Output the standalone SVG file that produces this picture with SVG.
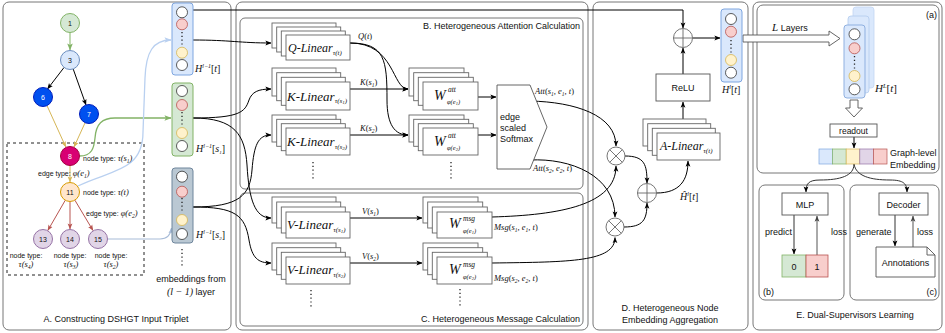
<svg xmlns="http://www.w3.org/2000/svg" width="945" height="333" viewBox="0 0 945 333">
<defs>
<style>
.pan{fill:none;stroke:#777;stroke-width:1}
.t{font-family:"Liberation Sans",Arial,sans-serif;fill:#111}
.m{font-family:"Liberation Serif","Times New Roman",serif;font-style:italic;fill:#111}
.stk{fill:#fff;stroke:#666;stroke-width:0.9}
.ln{fill:none;stroke:#000;stroke-width:1}
.op{fill:#fff;stroke:#666;stroke-width:0.9}
.dot{fill:none;stroke:#222;stroke-width:1.3;stroke-dasharray:1.2 2.6}
.cw{fill:#fff;stroke:#333;stroke-width:0.8}
.cp{fill:#f8cecc;stroke:#b85450;stroke-width:0.8}
.cy{fill:#fff2cc;stroke:#d6b656;stroke-width:0.8}
.bx{fill:#fff;stroke:#555;stroke-width:0.9}
</style>
<marker id="a" viewBox="0 0 8 8" refX="7.5" refY="4" markerWidth="6" markerHeight="6" markerUnits="userSpaceOnUse" orient="auto"><path d="M0,0.8 L8,4 L0,7.2 L1.8,4 z" fill="#000"/></marker>
<marker id="ag" viewBox="0 0 8 8" refX="7.5" refY="4" markerWidth="7" markerHeight="7" markerUnits="userSpaceOnUse" orient="auto"><path d="M0,0.8 L8,4 L0,7.2 L1.8,4 z" fill="#82b366"/></marker>
<marker id="ay" viewBox="0 0 8 8" refX="7.5" refY="4" markerWidth="6" markerHeight="6" markerUnits="userSpaceOnUse" orient="auto"><path d="M0,0.8 L8,4 L0,7.2 L1.8,4 z" fill="#d6b656"/></marker>
<marker id="ar" viewBox="0 0 8 8" refX="7.5" refY="4" markerWidth="6" markerHeight="6" markerUnits="userSpaceOnUse" orient="auto"><path d="M0,0.8 L8,4 L0,7.2 L1.8,4 z" fill="#b85450"/></marker>
<marker id="ab" viewBox="0 0 8 8" refX="7.5" refY="4" markerWidth="7" markerHeight="7" markerUnits="userSpaceOnUse" orient="auto"><path d="M0,0.8 L8,4 L0,7.2 L1.8,4 z" fill="#b9d0f0"/></marker>
<marker id="as" viewBox="0 0 8 8" refX="7.5" refY="4" markerWidth="6" markerHeight="6" markerUnits="userSpaceOnUse" orient="auto"><path d="M0,0.8 L8,4 L0,7.2 L1.8,4 z" fill="#a8bcd8"/></marker>
<marker id="ag2" viewBox="0 0 8 8" refX="7.5" refY="4" markerWidth="6" markerHeight="6" markerUnits="userSpaceOnUse" orient="auto"><path d="M0,0.8 L8,4 L0,7.2 L1.8,4 z" fill="#444"/></marker>
</defs>
<rect width="945" height="333" fill="#fff"/>

<!-- panels -->
<g id="panels">
<rect class="pan" x="3" y="2" width="228" height="328" rx="6"/>
<rect class="pan" x="236" y="2" width="352" height="328" rx="6"/>
<rect class="pan" x="240" y="18" width="343" height="171" rx="5"/>
<rect class="pan" x="240" y="193" width="343" height="133" rx="5"/>
<rect class="pan" x="593" y="2" width="155" height="328" rx="6"/>
<rect class="pan" x="753" y="2" width="189" height="328" rx="6"/>
<rect class="pan" x="757" y="5" width="182" height="168" rx="6"/>
<rect class="pan" x="759" y="185" width="85" height="115" rx="6"/>
<rect class="pan" x="850" y="185" width="89" height="115" rx="6"/>
<rect x="7" y="143" width="137" height="132" fill="none" stroke="#222" stroke-width="1" stroke-dasharray="3 3"/>
</g>

<!-- titles -->
<g id="titles" class="t" font-size="9">
<text x="116" y="322" text-anchor="middle">A. Constructing DSHGT Input Triplet</text>
<text x="580" y="29" text-anchor="end">B. Heterogeneous Attention Calculation</text>
<text x="580" y="322" text-anchor="end">C. Heterogeneous Message Calculation</text>
<text x="670" y="311" text-anchor="middle">D. Heterogeneous Node</text>
<text x="670" y="323" text-anchor="middle">Embedding Aggregation</text>
<text x="855" y="318" text-anchor="middle">E. Dual-Supervisors Learning</text>
<text x="937" y="18" text-anchor="end">(a)</text>
<text x="763" y="295">(b)</text>
<text x="937" y="295" text-anchor="end">(c)</text>
</g>

<!-- connectors -->
<g id="connectors">
<line x1="70" y1="32.5" x2="70" y2="50" stroke="#82b366" marker-end="url(#ag)"/>
<line x1="64" y1="67.5" x2="47.5" y2="89" class="ln" marker-end="url(#a)"/>
<line x1="73.2" y1="69" x2="86" y2="105" class="ln" marker-end="url(#a)"/>
<line x1="47" y1="105.6" x2="65.8" y2="147" stroke="#d6b656" marker-end="url(#ay)"/>
<line x1="85.1" y1="122.7" x2="74" y2="147" stroke="#d6b656" marker-end="url(#ay)"/>
<line x1="70" y1="165.5" x2="70" y2="182" stroke="#d6b656" marker-end="url(#ay)"/>
<line x1="65.3" y1="200.2" x2="47.8" y2="230.5" stroke="#b85450" marker-end="url(#ar)"/>
<line x1="70" y1="201.5" x2="70" y2="229" stroke="#b85450" marker-end="url(#ar)"/>
<line x1="74.9" y1="200.2" x2="93" y2="230.5" stroke="#b85450" marker-end="url(#ar)"/>
<path d="M79.5,156 C92,156 94,148 95,138 C96,124 102,118 115,118 L171,118" fill="none" stroke="#82b366" stroke-width="1.3" marker-end="url(#ag)"/>
<path d="M78,186 C110,170 143,172 143,132 L145,78 C146,52 153,40 171,40" fill="none" stroke="#b9d0f0" stroke-width="1.3" marker-end="url(#ab)"/>
<path d="M107.5,239 L160,239 Q170,239 171.5,228" fill="none" stroke="#a8bcd8" stroke-width="1.2" marker-end="url(#as)"/>

<path d="M193,10 L683,10 L683,28" class="ln" stroke-width="1.3" marker-end="url(#a)"/>
<path d="M193,40 C230,40 240,43 271,43" class="ln" marker-end="url(#a)"/>
<path d="M193,118 C240,118 245,112 249,100 C252,92 258,89 271,89" class="ln" marker-end="url(#a)"/>
<path d="M193,118 C235,118 245,135 247,165 C249,200 255,218 271,218" class="ln" marker-end="url(#a)"/>
<path d="M193,207 C240,207 250,195 252,170 C254,145 258,135 271,135" class="ln" marker-end="url(#a)"/>
<path d="M193,207 C235,207 245,215 249,240 C252,258 258,263 271,263" class="ln" marker-end="url(#a)"/>

<path d="M350,43 C395,43 392,89 408,89" class="ln" marker-end="url(#a)"/>
<path d="M350,43 C385,43 387,60 387,100 C387,125 395,135 408,135" class="ln" marker-end="url(#a)"/>
<line x1="350" y1="89" x2="408" y2="89" class="ln" marker-end="url(#a)"/>
<line x1="350" y1="135" x2="408" y2="135" class="ln" marker-end="url(#a)"/>
<line x1="478" y1="97" x2="496" y2="97" class="ln" marker-end="url(#a)"/>
<line x1="478" y1="135" x2="496" y2="135" class="ln" marker-end="url(#a)"/>
<line x1="350" y1="218" x2="422" y2="218" class="ln" marker-end="url(#a)"/>
<line x1="350" y1="263" x2="422" y2="263" class="ln" marker-end="url(#a)"/>

<path d="M530,101 C575,102 616,115 616,146" class="ln" marker-end="url(#a)"/>
<path d="M530,160 C570,158 615,175 615,217" class="ln" marker-end="url(#a)"/>
<path d="M492,217 C560,215 616,205 616,166" class="ln" marker-end="url(#a)"/>
<path d="M492,263 C570,262 615,262 615,237.5" class="ln" marker-end="url(#a)"/>
<path d="M625,156 C645,156 647,165 647,183" class="ln" marker-end="url(#a)"/>
<path d="M624,227 C643,227 647,220 647,203" class="ln" marker-end="url(#a)"/>
<path d="M656.5,193 C680,193 688,180 688,161" class="ln" marker-end="url(#a)"/>
<line x1="683" y1="119" x2="683" y2="102" class="ln" marker-end="url(#a)"/>
<line x1="683" y1="74" x2="683" y2="48" class="ln" marker-end="url(#a)"/>
<line x1="692.5" y1="38" x2="720" y2="38" class="ln" marker-end="url(#a)"/>

<polygon points="743,35 829,35 829,31 840,38.5 829,46 829,42 743,42" fill="#fff" stroke="#555" stroke-width="0.9"/>
<polygon points="850,100 858,100 858,108 862.5,108 854,117 845.5,108 850,108" fill="#fff" stroke="#555" stroke-width="0.9"/>
<line x1="854" y1="137" x2="854" y2="148" class="ln" stroke="#333" marker-end="url(#a)"/>
<path d="M854,164 C854,176 840,180 820,180 C808,180 806,184 806,192" fill="none" stroke="#333" marker-end="url(#a)"/>
<path d="M854,164 C856,176 870,180 890,180 C904,180 907,184 907,192" fill="none" stroke="#333" marker-end="url(#a)"/>
<line x1="794" y1="215" x2="794" y2="254" stroke="#333" marker-end="url(#a)"/>
<line x1="817" y1="255" x2="817" y2="216" stroke="#555" marker-end="url(#ag2)"/>
<line x1="895" y1="215" x2="895" y2="246" stroke="#333" marker-end="url(#a)"/>
<line x1="913" y1="247" x2="913" y2="216" stroke="#555" marker-end="url(#ag2)"/>
</g>

<!-- graph nodes -->
<g class="t" font-size="7" text-anchor="middle">
<g id="n1"><circle cx="70" cy="23" r="9.5" fill="#d5e8d4" stroke="#82b366"/><text x="70" y="25.5">1</text></g>
<g id="n3"><circle cx="70" cy="60" r="9.5" fill="#dae8fc" stroke="#6c8ebf"/><text x="70" y="62.5">3</text></g>
<g id="n6"><circle cx="43" cy="97" r="9.5" fill="#0050ef" stroke="#001dbc"/><text x="43" y="99.5" fill="#fff">6</text></g>
<g id="n7"><circle cx="89" cy="114" r="9.5" fill="#0050ef" stroke="#001dbc"/><text x="89" y="116.5" fill="#fff">7</text></g>
<g id="n8"><circle cx="70" cy="156" r="9.5" fill="#d80073" stroke="#a50040"/><text x="70" y="158.5" fill="#fff">8</text></g>
<g id="n11"><circle cx="70" cy="192" r="9.5" fill="#ffe6cc" stroke="#d79b00"/><text x="70" y="194.5">11</text></g>
<g id="n13"><circle cx="43" cy="239" r="9.5" fill="#e1d5e7" stroke="#9673a6"/><text x="43" y="241.5">13</text></g>
<g id="n14"><circle cx="70" cy="239" r="9.5" fill="#e1d5e7" stroke="#9673a6"/><text x="70" y="241.5">14</text></g>
<g id="n15"><circle cx="98" cy="239" r="9.5" fill="#e1d5e7" stroke="#9673a6"/><text x="98" y="241.5">15</text></g>
</g>

<g id="graph-labels" class="t" font-size="7">
<text x="83" y="161">node type: <tspan class="m" font-size="8.5">τ(s<tspan font-size="5.5" dy="1.5">1</tspan><tspan dy="-1.5">)</tspan></tspan></text>
<text x="38" y="176">edge type: <tspan class="m" font-size="8.5">φ(e<tspan font-size="5.5" dy="1.5">1</tspan><tspan dy="-1.5">)</tspan></tspan></text>
<text x="83" y="195">node type: <tspan class="m" font-size="8.5">τ(t)</tspan></text>
<text x="86" y="216">edge type: <tspan class="m" font-size="8.5">φ(e<tspan font-size="5.5" dy="1.5">2</tspan><tspan dy="-1.5">)</tspan></tspan></text>
<text x="26" y="257.5" text-anchor="middle">node type:</text>
<text x="70" y="257.5" text-anchor="middle">node type:</text>
<text x="111" y="257.5" text-anchor="middle">node type:</text>
<text class="m" x="26" y="267" font-size="8.5" text-anchor="middle">τ(s<tspan font-size="5.5" dy="1.5">4</tspan><tspan dy="-1.5">)</tspan></text>
<text class="m" x="71" y="267" font-size="8.5" text-anchor="middle">τ(s<tspan font-size="5.5" dy="1.5">3</tspan><tspan dy="-1.5">)</tspan></text>
<text class="m" x="111" y="267" font-size="8.5" text-anchor="middle">τ(s<tspan font-size="5.5" dy="1.5">2</tspan><tspan dy="-1.5">)</tspan></text>
</g>

<!-- embeddings l-1 -->
<g id="Ht">
<rect x="172" y="3" width="21" height="72" rx="3" fill="#dae8fc" stroke="#7ea6e0"/>
<circle class="cw" cx="182" cy="12.3" r="5.5"/><circle class="cp" cx="182" cy="24.3" r="5.5"/>
<line class="dot" x1="182" y1="32" x2="182" y2="45"/>
<circle class="cy" cx="182" cy="52.7" r="5.5"/><circle class="cw" cx="182" cy="65" r="5.5"/>
<text class="m" x="195" y="72" font-size="10">H<tspan font-size="6" dy="-4">l−1</tspan><tspan dy="4" font-style="normal">[</tspan>t<tspan font-style="normal">]</tspan></text>
</g>
<g id="Hs1">
<rect x="172" y="83" width="21" height="73" rx="3" fill="#d5e8d4" stroke="#82b366"/>
<circle class="cw" cx="182" cy="91" r="5.5"/><circle class="cp" cx="182" cy="105" r="5.5"/>
<line class="dot" x1="182" y1="112" x2="182" y2="126"/>
<circle class="cy" cx="182" cy="133" r="5.5"/><circle class="cw" cx="182" cy="146" r="5.5"/>
<text class="m" x="196" y="152" font-size="10">H<tspan font-size="6" dy="-4">l−1</tspan><tspan dy="4" font-style="normal">[</tspan>s<tspan font-size="5" dy="1.5">1</tspan><tspan dy="-1.5" font-style="normal">]</tspan></text>
</g>
<g id="Hs2">
<rect x="172" y="168" width="21" height="75" rx="3" fill="#bac8d3" stroke="#6f869c"/>
<circle class="cw" cx="182" cy="176.7" r="5.5"/><circle class="cp" cx="182" cy="191.7" r="5.5"/>
<line class="dot" x1="182" y1="198" x2="182" y2="213"/>
<circle class="cy" cx="182" cy="220" r="5.5"/><circle class="cw" cx="182" cy="234" r="5.5"/>
<text class="m" x="196" y="238" font-size="10">H<tspan font-size="6" dy="-4">l−1</tspan><tspan dy="4" font-style="normal">[</tspan>s<tspan font-size="5" dy="1.5">2</tspan><tspan dy="-1.5" font-style="normal">]</tspan></text>
</g>
<g id="Hmore">
<line class="dot" x1="182" y1="249" x2="182" y2="268"/>
<text class="t" x="191" y="282" font-size="9" text-anchor="middle">embeddings from</text>
<text class="t" x="191" y="295" font-size="9" text-anchor="middle"><tspan class="m" font-size="10" font-style="normal">(</tspan><tspan class="m" font-size="10">l</tspan><tspan class="m" font-size="10" font-style="normal"> − 1)</tspan> layer</text>
</g>

<!-- Q/K/V linear stacks -->
<g id="Qlin">
<rect class="stk" x="272" y="23" width="64" height="25"/><rect class="stk" x="276.7" y="27" width="64" height="25"/><rect class="stk" x="281.3" y="31" width="64" height="25"/><rect class="stk" x="286" y="35" width="64" height="25"/>
<text class="m" x="288" y="52" font-size="12">Q-Linear<tspan font-size="7" dy="2.5">τ(t)</tspan></text>
</g>
<g id="Ks1">
<rect class="stk" x="272" y="68" width="64" height="28"/><rect class="stk" x="276.7" y="72.7" width="64" height="28"/><rect class="stk" x="281.3" y="77.3" width="64" height="28"/><rect class="stk" x="286" y="82" width="64" height="28"/>
<text class="m" x="287" y="100.5" font-size="13">K-Linear<tspan font-size="7" dy="2.5">τ(s</tspan><tspan font-size="5" dy="1">1</tspan><tspan font-size="7" dy="-1">)</tspan></text>
</g>
<g id="Ks2">
<rect class="stk" x="272" y="115" width="64" height="27"/><rect class="stk" x="276.7" y="119.3" width="64" height="27"/><rect class="stk" x="281.3" y="123.7" width="64" height="27"/><rect class="stk" x="286" y="128" width="64" height="27"/>
<text class="m" x="287" y="146" font-size="13">K-Linear<tspan font-size="7" dy="2.5">τ(s</tspan><tspan font-size="5" dy="1">2</tspan><tspan font-size="7" dy="-1">)</tspan></text>
</g>
<g id="Vs1">
<rect class="stk" x="272" y="197" width="64" height="26"/><rect class="stk" x="276.7" y="202" width="64" height="26"/><rect class="stk" x="281.3" y="207" width="64" height="26"/><rect class="stk" x="286" y="212" width="64" height="26"/>
<text class="m" x="287" y="229" font-size="13">V-Linear<tspan font-size="7" dy="2.5">τ(s</tspan><tspan font-size="5" dy="1">1</tspan><tspan font-size="7" dy="-1">)</tspan></text>
</g>
<g id="Vs2">
<rect class="stk" x="272" y="243" width="64" height="27"/><rect class="stk" x="276.7" y="247.7" width="64" height="27"/><rect class="stk" x="281.3" y="252.3" width="64" height="27"/><rect class="stk" x="286" y="257" width="64" height="27"/>
<text class="m" x="287" y="274" font-size="13">V-Linear<tspan font-size="7" dy="2.5">τ(s</tspan><tspan font-size="5" dy="1">2</tspan><tspan font-size="7" dy="-1">)</tspan></text>
</g>

<!-- W stacks -->
<g id="Watt1">
<rect class="stk" x="409" y="68" width="55" height="28"/><rect class="stk" x="413.7" y="72.7" width="55" height="28"/><rect class="stk" x="418.3" y="77.3" width="55" height="28"/><rect class="stk" x="423" y="82" width="55" height="28"/>
<text class="m" x="434" y="100" font-size="14">W</text>
<text class="m" x="448" y="92" font-size="7.5">att</text>
<text class="m" x="447" y="104" font-size="6.5">φ(e<tspan font-size="4.5" dy="1">1</tspan><tspan dy="-1">)</tspan></text>
</g>
<g id="Watt2">
<rect class="stk" x="409" y="115" width="55" height="27"/><rect class="stk" x="413.7" y="119.3" width="55" height="27"/><rect class="stk" x="418.3" y="123.7" width="55" height="27"/><rect class="stk" x="423" y="128" width="55" height="27"/>
<text class="m" x="434" y="146" font-size="14">W</text>
<text class="m" x="448" y="138" font-size="7.5">att</text>
<text class="m" x="447" y="150" font-size="6.5">φ(e<tspan font-size="4.5" dy="1">2</tspan><tspan dy="-1">)</tspan></text>
</g>
<g id="Wmsg1">
<rect class="stk" x="423" y="197" width="55" height="26"/><rect class="stk" x="427.7" y="202" width="55" height="26"/><rect class="stk" x="432.3" y="207" width="55" height="26"/><rect class="stk" x="437" y="212" width="55" height="26"/>
<text class="m" x="449" y="228" font-size="14">W</text>
<text class="m" x="463" y="221" font-size="7.5">msg</text>
<text class="m" x="463" y="232.5" font-size="6.5">φ(e<tspan font-size="4.5" dy="1">1</tspan><tspan dy="-1">)</tspan></text>
</g>
<g id="Wmsg2">
<rect class="stk" x="423" y="243" width="55" height="27"/><rect class="stk" x="427.7" y="247.7" width="55" height="27"/><rect class="stk" x="432.3" y="252.3" width="55" height="27"/><rect class="stk" x="437" y="257" width="55" height="27"/>
<text class="m" x="449" y="274" font-size="14">W</text>
<text class="m" x="463" y="267" font-size="7.5">msg</text>
<text class="m" x="463" y="278.5" font-size="6.5">φ(e<tspan font-size="4.5" dy="1">2</tspan><tspan dy="-1">)</tspan></text>
</g>
<g id="vdots">
<line class="dot" x1="313" y1="162" x2="313" y2="180"/>
<line class="dot" x1="451" y1="162" x2="451" y2="180"/>
<line class="dot" x1="311" y1="290" x2="311" y2="307"/>
<line class="dot" x1="460" y1="289" x2="460" y2="307"/>
</g>

<!-- softmax -->
<g id="softmax">
<polygon points="497,85 530,85 547,127 530,169 497,169" fill="#fff" stroke="#555" stroke-width="0.9"/>
<text class="t" x="500" y="120" font-size="9">edge</text>
<text class="t" x="500" y="131" font-size="9">scaled</text>
<text class="t" x="500" y="141.5" font-size="9">Softmax</text>
</g>

<!-- edge labels -->
<g id="edge-labels" class="m" font-size="8.5">
<text x="358" y="39">Q<tspan font-style="normal">(</tspan>t<tspan font-style="normal">)</tspan></text>
<text x="360" y="85">K<tspan font-style="normal">(</tspan>s<tspan font-size="5.5" dy="1.5">1</tspan><tspan dy="-1.5" font-style="normal">)</tspan></text>
<text x="360" y="131">K<tspan font-style="normal">(</tspan>s<tspan font-size="5.5" dy="1.5">2</tspan><tspan dy="-1.5" font-style="normal">)</tspan></text>
<text x="362" y="214">V<tspan font-style="normal">(</tspan>s<tspan font-size="5.5" dy="1.5">1</tspan><tspan dy="-1.5" font-style="normal">)</tspan></text>
<text x="362" y="259">V<tspan font-style="normal">(</tspan>s<tspan font-size="5.5" dy="1.5">2</tspan><tspan dy="-1.5" font-style="normal">)</tspan></text>
<text x="535" y="94">Att<tspan font-style="normal">(</tspan>s<tspan font-size="5.5" dy="1.5">1</tspan><tspan dy="-1.5">, e</tspan><tspan font-size="5.5" dy="1.5">1</tspan><tspan dy="-1.5">, t</tspan><tspan font-style="normal">)</tspan></text>
<text x="533" y="171">Att<tspan font-style="normal">(</tspan>s<tspan font-size="5.5" dy="1.5">2</tspan><tspan dy="-1.5">, e</tspan><tspan font-size="5.5" dy="1.5">2</tspan><tspan dy="-1.5">, t</tspan><tspan font-style="normal">)</tspan></text>
<text x="494" y="230">Msg<tspan font-style="normal">(</tspan>s<tspan font-size="5.5" dy="1.5">1</tspan><tspan dy="-1.5">, e</tspan><tspan font-size="5.5" dy="1.5">1</tspan><tspan dy="-1.5">, t</tspan><tspan font-style="normal">)</tspan></text>
<text x="494" y="281">Msg<tspan font-style="normal">(</tspan>s<tspan font-size="5.5" dy="1.5">2</tspan><tspan dy="-1.5">, e</tspan><tspan font-size="5.5" dy="1.5">2</tspan><tspan dy="-1.5">, t</tspan><tspan font-style="normal">)</tspan></text>
<text x="680" y="200" font-size="10">Ĥ<tspan font-size="6" dy="-4">l</tspan><tspan dy="4" font-style="normal">[</tspan>t<tspan font-style="normal">]</tspan></text>
</g>

<!-- aggregation -->
<g id="mul1"><circle class="op" cx="616" cy="156" r="9"/><path d="M609.6,149.6 L622.4,162.4 M622.4,149.6 L609.6,162.4" stroke="#666" stroke-width="0.9"/></g>
<g id="mul2"><circle class="op" cx="615" cy="227" r="9"/><path d="M608.6,220.6 L621.4,233.4 M621.4,220.6 L608.6,233.4" stroke="#666" stroke-width="0.9"/></g>
<g id="add2"><circle class="op" cx="647" cy="193" r="9.5"/><path d="M637.5,193 H656.5 M647,183.5 V202.5" stroke="#666" stroke-width="0.9"/></g>
<g id="add1"><circle class="op" cx="683" cy="38" r="9.5"/><path d="M673.5,38 H692.5 M683,28.5 V47.5" stroke="#666" stroke-width="0.9"/></g>
<g id="Alin">
<rect class="stk" x="643" y="119" width="63" height="27"/><rect class="stk" x="647.7" y="123.7" width="63" height="27"/><rect class="stk" x="652.3" y="128.3" width="63" height="27"/><rect class="stk" x="657" y="133" width="63" height="27"/>
<text class="m" x="660" y="150" font-size="12">A-Linear<tspan font-size="7" dy="2.5">τ(t)</tspan></text>
</g>
<g id="relu"><rect class="bx" x="656" y="74" width="54" height="27"/><text class="t" x="683" y="90.5" font-size="9" text-anchor="middle">ReLU</text></g>
<g id="Hl">
<rect x="721" y="9" width="21" height="73" rx="3" fill="#dae8fc" stroke="#7ea6e0"/>
<circle class="cw" cx="731" cy="19" r="5.5"/><circle class="cp" cx="731" cy="31.7" r="5.5"/>
<line class="dot" x1="731" y1="40" x2="731" y2="54"/>
<circle class="cy" cx="731" cy="60" r="5.5"/><circle class="cw" cx="731" cy="72.7" r="5.5"/>
<text class="m" x="722" y="93" font-size="10">H<tspan font-size="6" dy="-4">l</tspan><tspan dy="4" font-style="normal">[</tspan>t<tspan font-style="normal">]</tspan></text>
</g>

<!-- E -->
<g id="layers">
<text x="772" y="31" class="t" font-size="9"><tspan class="m" font-size="11">L</tspan>  Layers</text>
</g>
<g id="HL">
<rect x="853" y="7" width="21" height="81" rx="3" fill="#dae8fc" stroke="#c3d6f2" stroke-width="0.8"/>
<rect x="848" y="16" width="21" height="77" rx="3" fill="#dae8fc" stroke="#b3cbee" stroke-width="0.8"/>
<rect x="844" y="25" width="21" height="73" rx="3" fill="#dae8fc" stroke="#8fb0e0"/>
<circle class="cw" cx="854.5" cy="34.3" r="5.5"/><circle class="cp" cx="854.5" cy="48.3" r="5.5"/>
<line class="dot" x1="854.5" y1="56" x2="854.5" y2="69"/>
<circle class="cy" cx="854.5" cy="76" r="5.5"/><circle class="cw" cx="854.5" cy="89.3" r="5.5"/>
<text class="m" x="875" y="92" font-size="11">H<tspan font-size="6.5" dy="-4.5">L</tspan><tspan dy="4.5" font-style="normal">[</tspan>t<tspan font-style="normal">]</tspan></text>
</g>
<g id="readout"><rect class="bx" x="830" y="124" width="47" height="13"/><text class="t" x="853.5" y="133.5" font-size="8.5" text-anchor="middle">readout</text></g>
<g id="graphemb">
<rect x="819" y="149" width="13.6" height="15" fill="#dae8fc" stroke="#7ea6e0" stroke-width="0.7"/>
<rect x="832.6" y="149" width="13.6" height="15" fill="#d5e8d4" stroke="#82b366" stroke-width="0.7"/>
<rect x="846.2" y="149" width="13.6" height="15" fill="#fff2cc" stroke="#d6b656" stroke-width="0.7"/>
<rect x="859.8" y="149" width="13.6" height="15" fill="#e1d5e7" stroke="#9673a6" stroke-width="0.7"/>
<rect x="873.4" y="149" width="13.6" height="15" fill="#f8cecc" stroke="#b85450" stroke-width="0.7"/>
<text class="t" x="890" y="156" font-size="9">Graph-level</text>
<text class="t" x="890" y="168" font-size="9">Embedding</text>
</g>
<g id="mlp"><rect class="bx" x="782" y="193" width="46" height="22"/><text class="t" x="805" y="207.5" font-size="9" text-anchor="middle">MLP</text></g>
<g id="decoder"><rect class="bx" x="879" y="193" width="49" height="22"/><text class="t" x="903.5" y="207.5" font-size="9" text-anchor="middle">Decoder</text></g>
<g id="labels01">
<rect x="782" y="255" width="24" height="22" fill="#d5e8d4" stroke="#82b366" stroke-width="0.8"/>
<rect x="806" y="255" width="22" height="22" fill="#f8cecc" stroke="#b85450" stroke-width="0.8"/>
<text class="t" x="794" y="269.5" font-size="9" text-anchor="middle">0</text>
<text class="t" x="817" y="269.5" font-size="9" text-anchor="middle">1</text>
</g>
<g id="annotations">
<path d="M876,247 H927 L935,255 V277 H876 Z" fill="#fff" stroke="#555" stroke-width="0.9"/>
<path d="M927,247 V255 H935" fill="none" stroke="#555" stroke-width="0.9"/>
<text class="t" x="905.5" y="266" font-size="9" text-anchor="middle">Annotations</text>
</g>
<g id="e-labels" class="t" font-size="9">
<text x="765" y="235">predict</text>
<text x="831" y="235">loss</text>
<text x="856" y="235">generate</text>
<text x="917" y="235">loss</text>
</g>
</svg>
